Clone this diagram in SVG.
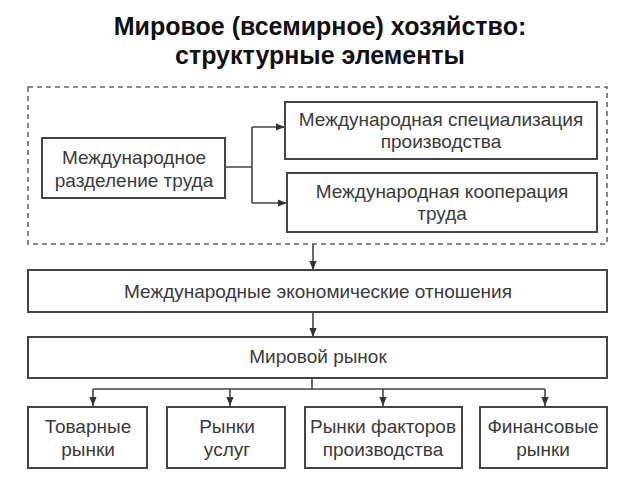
<svg xmlns="http://www.w3.org/2000/svg" width="640" height="480" viewBox="0 0 640 480">
<defs>
<marker id="ah" viewBox="0 0 10 10" refX="10" refY="5" markerWidth="9" markerHeight="9" markerUnits="userSpaceOnUse" orient="auto">
<path d="M0,1 L10,5 L0,9 z" fill="#333"/>
</marker>
<style>
.title{font-family:"Liberation Sans",Arial,sans-serif;font-weight:bold;font-size:25px;fill:#111;text-anchor:middle}
.box{fill:#fff;stroke:#444;stroke-width:2}
.t{font-family:"Liberation Sans",Arial,sans-serif;font-size:19px;fill:#3a3a3a;text-anchor:middle}
.c{fill:none;stroke:#444;stroke-width:1.6}
.ca{fill:none;stroke:#444;stroke-width:1.6;marker-end:url(#ah)}
</style>
</defs>
<rect width="640" height="480" fill="#fff"/>
<text class="title" x="320" y="35">Мировое (всемирное) хозяйство:</text>
<text class="title" x="320" y="64">структурные элементы</text>

<rect id="group" x="28" y="87" width="579" height="157" fill="none" stroke="#666" stroke-width="1.6" stroke-dasharray="5,4"/>

<g id="connectors">
<path class="c" d="M225,167 H252 M252,127 V203"/>
<path class="ca" d="M252,127 H285"/>
<path class="ca" d="M252,203 H287"/>
<path class="ca" d="M313,244 V270"/>
<path class="ca" d="M313,312 V337"/>
<path class="c" d="M312,378 V389 M93,389 H545"/>
<path class="ca" d="M93,389 V406"/>
<path class="ca" d="M230,389 V406"/>
<path class="ca" d="M383,389 V406"/>
<path class="ca" d="M545,389 V406"/>
</g>

<g id="mrt">
<rect class="box" x="42" y="138" width="183" height="60"/>
<text class="t" x="134" y="164">Международное</text>
<text class="t" x="134" y="187">разделение труда</text>
</g>
<g id="msp">
<rect class="box" x="285" y="102" width="312" height="57"/>
<text class="t" x="441" y="126">Международная специализация</text>
<text class="t" x="441" y="148">производства</text>
</g>
<g id="mkt">
<rect class="box" x="287" y="173" width="310" height="59"/>
<text class="t" x="442" y="198">Международная кооперация</text>
<text class="t" x="442" y="220">труда</text>
</g>
<g id="meo">
<rect class="box" x="28" y="270" width="579" height="42"/>
<text class="t" x="318" y="298">Международные экономические отношения</text>
</g>
<g id="mr">
<rect class="box" x="28" y="337" width="579" height="41"/>
<text class="t" x="318" y="363">Мировой рынок</text>
</g>
<g id="tr">
<rect class="box" x="28" y="407" width="119" height="61"/>
<text class="t" x="88" y="433">Товарные</text>
<text class="t" x="88" y="456">рынки</text>
</g>
<g id="ru">
<rect class="box" x="167" y="407" width="118" height="61"/>
<text class="t" x="227" y="433">Рынки</text>
<text class="t" x="227" y="456">услуг</text>
</g>
<g id="rfp">
<rect class="box" x="305" y="407" width="157" height="61"/>
<text class="t" x="383" y="433">Рынки факторов</text>
<text class="t" x="383" y="456">производства</text>
</g>
<g id="fr">
<rect class="box" x="480" y="407" width="127" height="61"/>
<text class="t" x="543" y="433">Финансовые</text>
<text class="t" x="543" y="456">рынки</text>
</g>
</svg>
